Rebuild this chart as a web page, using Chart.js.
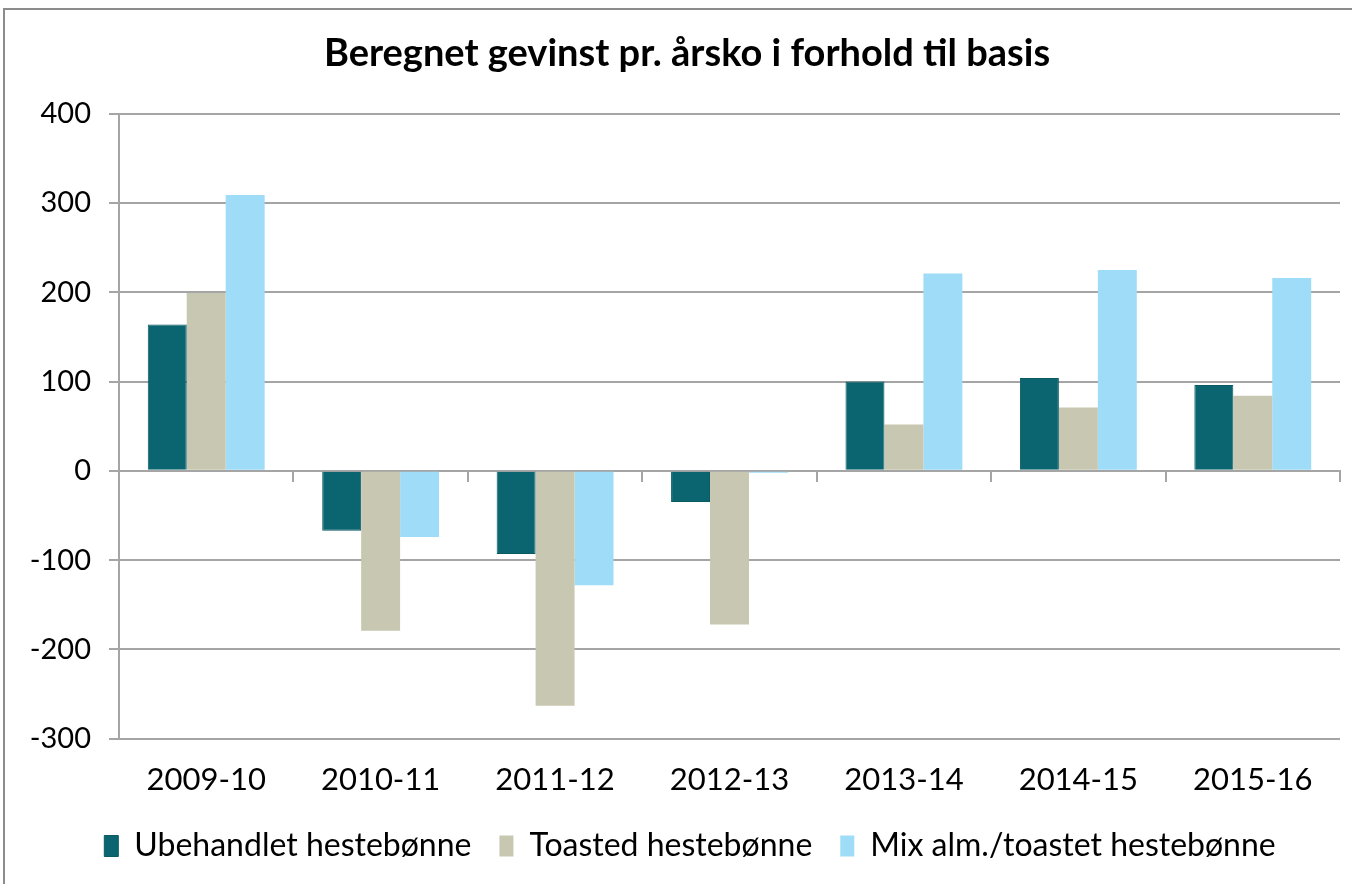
<!DOCTYPE html>
<html>
<head>
<meta charset="utf-8">
<script src="https://cdn.jsdelivr.net/npm/chart.js@4"></script>
<style>
  body { margin: 0; background: #fff; }
  #frame { position: absolute; left: 3px; top: 8px; width: 1400px; height: 900px;
           border-left: 2px solid #8c8c8c; border-top: 2px solid #8c8c8c; }
  #wrap { position: absolute; left: 0; top: 0; width: 1352px; height: 884px; }
</style>
</head>
<body>
<div id="frame"></div>
<div id="wrap"><canvas id="c" width="1352" height="884"></canvas></div>
<script>
const seasons = ['2009-10', '2010-11', '2011-12', '2012-13', '2013-14', '2014-15', '2015-16'];
const ubehandlet = [164, -67, -93, -35, 100, 104, 96];
const toasted = [199, -179, -263, -172, 52, 71, 84];
const mix = [309, -74, -128, -2, 221, 225, 216];

const FONT = 'Lato, Calibri, sans-serif';
const GRID = '#a5a5a5';

// small position tweaks for title and legend (the original is centred on the whole frame)
const nudge = {
  id: 'nudge',
  afterLayout(chart) {
    chart.legend.top -= 12;
    chart.legend.bottom -= 12;
    chart.legend.left += 20;
    chart.legend.right += 20;
    chart.titleBlock.left += 17;
    chart.titleBlock.right += 17;
  }
};

new Chart(document.getElementById('c'), {
  type: 'bar',
  data: {
    labels: seasons,
    datasets: [
      { label: 'Ubehandlet hestebønne', data: ubehandlet, backgroundColor: '#0a6570', borderColor: '#0a5a63', borderWidth: 1 },
      { label: 'Toasted hestebønne', data: toasted, backgroundColor: '#c8c7b1' },
      { label: 'Mix alm./toastet hestebønne', data: mix, backgroundColor: '#9edcf7' }
    ]
  },
  plugins: [nudge],
  options: {
    responsive: false,
    animation: false,
    devicePixelRatio: 1,
    layout: { padding: { left: 0, right: 12, bottom: 0 } },
    datasets: { bar: { categoryPercentage: 0.67, barPercentage: 1 } },
    plugins: {
      title: {
        display: true,
        text: 'Beregnet gevinst pr. årsko i forhold til basis',
        color: '#000',
        font: { family: FONT, size: 38, weight: 'bold' },
        padding: { top: 31, bottom: 37 }
      },
      legend: {
        position: 'bottom',
        maxHeight: 74,
        labels: {
          color: '#000',
          font: { family: FONT, size: 32 },
          boxWidth: 14,
          boxHeight: 21,
          padding: 28
        }
      },
      tooltip: { enabled: false }
    },
    scales: {
      x: {
        position: { y: 0 },
        offset: true,
        ticks: { display: false },
        grid: { offset: true, drawOnChartArea: false, drawTicks: true, tickLength: 10, color: GRID, lineWidth: 2 },
        border: { display: true, color: GRID, width: 2 }
      },
      x2: {
        type: 'category',
        position: 'bottom',
        labels: seasons,
        offset: true,
        grid: { display: false },
        border: { display: false },
        ticks: { color: '#000', font: { family: FONT, size: 31 }, padding: 15 }
      },
      y: {
        min: -300,
        max: 400,
        ticks: { stepSize: 100, color: '#000', font: { family: FONT, size: 29 }, padding: 18 },
        grid: { color: GRID, lineWidth: 2, tickLength: 10 },
        border: { display: true, color: GRID, width: 2 },
        afterFit: (scale) => { scale.width = 119; }
      }
    }
  }
});
</script>
</body>
</html>
